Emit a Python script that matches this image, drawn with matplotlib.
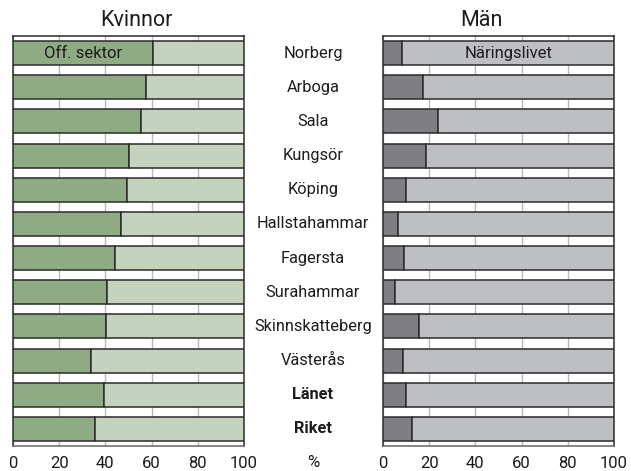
import matplotlib
matplotlib.use("Agg")
import matplotlib.pyplot as plt
import matplotlib.transforms as mtransforms

plt.rcParams["font.family"] = ["Roboto", "DejaVu Sans"]

# --------------------------- DATA --------------------------- #

kommuner = [
    "Norberg", "Arboga", "Sala", "Kungsör", "Köping", "Hallstahammar",
    "Fagersta", "Surahammar", "Skinnskatteberg", "Västerås", "Länet", "Riket",
]
bold_rows = ["Länet", "Riket"]

# share (%) employed in public sector
kvinnor_off = [60.7, 57.6, 55.5, 50.2, 49.4, 46.8, 44.0, 40.8, 40.1, 33.6, 39.3, 35.6]
# share (%) employed in public sector, men (rest = näringslivet)
man_off = [8.4, 17.5, 23.6, 18.5, 10.0, 6.4, 9.1, 5.1, 15.6, 8.7, 10.0, 12.6]

xticks = [0, 20, 40, 60, 80, 100]

# --------------------------- PLOTTING --------------------------- #

fig = plt.figure(figsize=(6.31, 4.71), dpi=100)
ax1 = fig.add_axes([0.0206, 0.0531, 0.366, 0.8705])
ax2 = fig.add_axes([0.607, 0.0531, 0.366, 0.8705])

rows = list(range(len(kommuner)))
bar_h = 0.7
edge = "#2b2b2b"
txt = "#1c1c1c"


def draw_panel(ax, dark, dark_col, light_col):
    rest = [100 - v for v in dark]
    ax.barh(rows, dark, height=bar_h, color=dark_col, edgecolor=edge, linewidth=1.1, zorder=3)
    ax.barh(rows, rest, left=dark, height=bar_h, color=light_col, edgecolor=edge, linewidth=1.1, zorder=3)
    ax.set_xlim(0, 100)
    ax.set_ylim(len(kommuner) - 0.5, -0.5)
    ax.set_yticks([])
    ax.set_xticks(xticks)
    ax.set_xticklabels([str(t) for t in xticks], fontsize=12, color=txt)
    ax.tick_params(axis="x", length=0, pad=7)
    ax.grid(axis="x", color="#b8b8b8", linewidth=1.0, zorder=0)
    for s in ["left", "top", "right"]:
        ax.spines[s].set_color(edge)
        ax.spines[s].set_linewidth(1.1)
    ax.spines["bottom"].set_color("#666666")
    ax.spines["bottom"].set_linewidth(1.1)


draw_panel(ax1, kvinnor_off, "#8fab83", "#c5d2be")
draw_panel(ax2, man_off, "#7f7f83", "#bebfc3")

# titles sit a bit off the axes centre in the original
fig.text(136.5 / 631, 1 - 20 / 471, "Kvinnor", ha="center", va="center", fontsize=15.5, color=txt)
fig.text(481 / 631, 1 - 20 / 471, "Män", ha="center", va="center", fontsize=15.5, color=txt)

ax1.text(kvinnor_off[0] / 2, 0, "Off. sektor", ha="center", va="center",
         fontsize=12, color=txt, zorder=4)
ax2.text((man_off[0] + 100) / 2, 0, "Näringslivet", ha="center", va="center",
         fontsize=12, color=txt, zorder=4)

# municipality labels between the panels
trans = mtransforms.blended_transform_factory(fig.transFigure, ax1.transData)
for i, name in enumerate(kommuner):
    weight = "bold" if name in bold_rows else "normal"
    fig.text(0.496, i, name, transform=trans, ha="center", va="center",
             fontsize=11.8, fontweight=weight, color=txt)

fig.text(0.496, 0.019, "%", ha="center", va="center", fontsize=12, color=txt)

plt.savefig("out.png", dpi=100)
